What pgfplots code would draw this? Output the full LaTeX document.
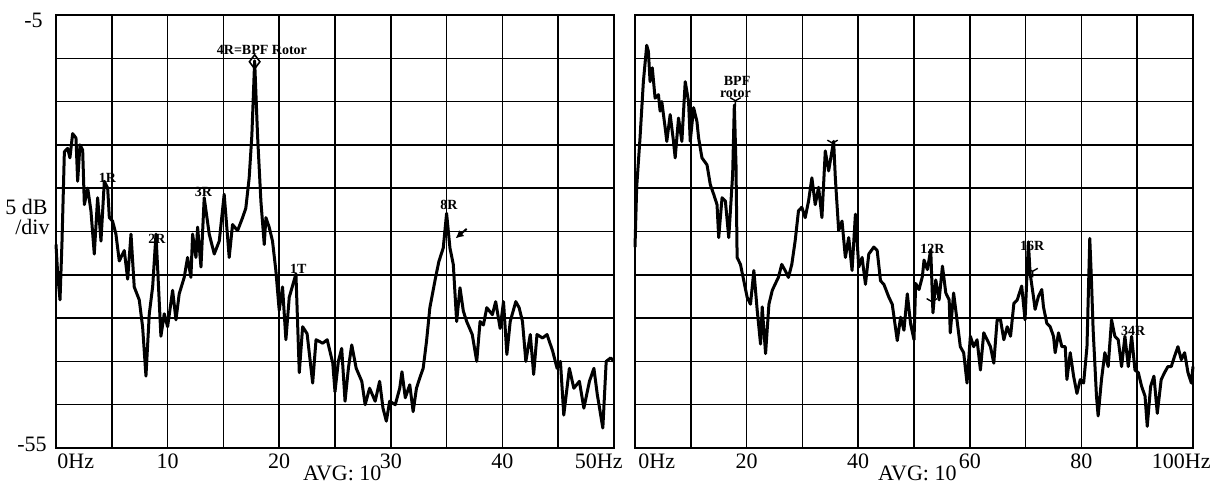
\documentclass[border=0pt]{standalone}
\usepackage{pgfplots}
\pgfplotsset{compat=1.18}
\usepackage{fontspec}
\setmainfont{Liberation Serif}
\usetikzlibrary{plotmarks,arrows.meta}

\pgfplotstableread{
hz db
0 -31.5
0.15 -34.9
0.36 -37.9
0.54 -31.1
0.75 -20.8
1.04 -20.4
1.25 -21.5
1.49 -18.7
1.79 -19.2
1.94 -24.2
2.15 -20.0
2.39 -20.6
2.54 -26.9
2.84 -25.0
3.13 -27.6
3.43 -32.6
3.73 -26.1
4.03 -31.1
4.33 -24.2
4.63 -25.0
4.78 -28.4
5.07 -28.8
5.37 -30.3
5.67 -33.4
6.12 -32.2
6.42 -35.5
6.72 -30.3
7.01 -36.4
7.46 -37.9
7.76 -41.0
8.06 -46.7
8.36 -39.5
8.66 -36.4
8.96 -30.3
9.40 -42.1
9.70 -39.5
10.0 -41.0
10.45 -36.8
10.75 -40.2
11.04 -37.2
11.49 -35.3
11.79 -33.0
12.09 -35.3
12.24 -30.3
12.54 -33.0
12.69 -29.5
12.99 -34.1
13.28 -26.1
13.73 -30.3
14.18 -32.6
14.63 -31.1
15.07 -25.7
15.52 -33.0
15.82 -29.2
16.27 -29.9
16.72 -28.4
17.01 -27.3
17.31 -23.8
17.55 -18.9
17.8 -10.3
18.06 -18.9
18.36 -26.5
18.66 -31.5
18.81 -28.4
19.10 -29.5
19.40 -31.1
19.70 -34.5
20.0 -39.1
20.3 -36.4
20.6 -42.5
20.9 -37.6
21.5 -34.9
21.8 -46.3
22.1 -41.0
22.5 -41.8
23.0 -47.5
23.3 -42.5
23.9 -42.9
24.3 -42.5
24.8 -45.2
25.0 -48.5
25.3 -45.0
25.6 -43.5
25.9 -49.6
26.2 -45.8
26.5 -43.1
26.9 -45.8
27.4 -47.3
27.7 -50.0
28.1 -48.1
28.6 -49.6
29.0 -47.3
29.3 -50.4
29.6 -51.9
29.9 -49.6
30.4 -50.0
30.8 -48.1
31.0 -46.2
31.3 -49.2
31.7 -47.7
32.0 -50.8
32.3 -48.1
32.6 -46.9
32.9 -45.8
33.2 -42.7
33.5 -38.8
34.0 -35.4
34.3 -33.5
34.7 -31.9
35.0 -27.9
35.3 -31.9
35.6 -33.8
35.9 -40.4
36.2 -36.5
36.5 -39.2
36.8 -40.4
37.3 -41.9
37.7 -45.0
38.0 -40.4
38.3 -40.8
38.6 -38.8
39.1 -39.6
39.4 -38.1
39.8 -41.2
40.1 -38.1
40.4 -44.2
40.7 -40.4
41.2 -38.1
41.5 -38.8
41.8 -40.4
42.1 -45.0
42.5 -41.9
42.8 -46.5
43.1 -41.9
43.6 -42.3
44.0 -41.9
44.5 -43.8
44.9 -45.8
45.2 -45.0
45.5 -51.2
46.0 -45.8
46.4 -48.1
46.9 -47.3
47.3 -50.4
47.8 -47.3
48.2 -45.8
48.5 -48.8
49.0 -52.7
49.3 -45.0
49.7 -44.6
50.0 -45.0
}\lefttable

\pgfplotstableread{
hz db
0 -31.8
0.3 -24.9
0.9 -19.2
1.5 -12.7
2.1 -8.5
2.4 -9.2
2.7 -12.7
3.1 -11.1
3.6 -14.6
4.2 -14.2
4.5 -16.1
4.8 -15.0
5.4 -18.0
5.7 -19.6
6.3 -16.5
6.9 -19.6
7.2 -21.5
7.8 -16.9
8.4 -19.6
9.0 -12.7
9.6 -15.0
9.9 -19.6
10.5 -15.7
11.1 -17.3
11.4 -19.2
12.0 -21.5
12.9 -22.3
13.5 -24.6
14.1 -25.7
14.7 -26.9
15.0 -30.7
15.6 -26.1
16.2 -26.5
16.8 -30.7
17.1 -27.6
17.5 -23.4
17.8 -15.4
18.1 -22.3
18.3 -33.0
18.9 -33.8
19.5 -35.7
20.1 -37.6
20.7 -38.4
21.3 -34.5
21.9 -39.1
22.5 -43.0
22.8 -38.7
23.4 -44.1
24.0 -38.4
24.6 -36.8
25.1 -36.1
25.7 -35.3
26.3 -33.8
26.9 -34.5
27.5 -35.3
28.1 -33.8
28.7 -31.1
29.3 -27.6
29.9 -27.2
30.5 -28.4
31.1 -26.5
31.7 -23.8
32.3 -26.9
32.9 -24.9
33.5 -28.4
34.1 -20.7
34.7 -23.0
35.3 -20.7
35.6 -19.6
35.9 -23.8
36.5 -29.9
37.1 -28.8
37.7 -33.0
38.3 -30.7
38.9 -34.5
39.5 -28.0
40.1 -34.1
40.7 -33.0
41.3 -36.1
41.9 -32.6
42.8 -31.8
43.4 -32.2
44.0 -35.7
44.6 -36.1
45.5 -37.6
46.1 -38.4
47.0 -42.6
47.6 -39.9
48.2 -41.4
48.8 -37.2
49.4 -40.7
50.0 -42.5
50.3 -36.0
50.9 -36.7
51.5 -35.2
51.8 -33.3
52.4 -34.4
53.0 -32.1
53.4 -39.4
53.9 -35.6
54.5 -37.9
55.1 -34.0
55.7 -37.1
56.3 -37.9
56.5 -41.7
57.1 -37.1
57.7 -40.2
58.3 -43.3
58.9 -44.0
59.5 -47.5
60.1 -42.1
60.7 -43.3
61.3 -42.5
61.9 -46.0
62.5 -41.7
63.1 -42.5
63.7 -43.3
64.3 -45.2
64.9 -40.2
65.5 -40.2
66.1 -42.5
66.7 -41.0
67.3 -42.1
67.9 -38.3
68.5 -37.9
69.3 -36.3
69.9 -40.2
70.5 -31.2
70.8 -34.8
71.4 -37.5
71.7 -39.0
72.3 -37.5
72.9 -36.7
73.2 -38.7
73.8 -40.6
74.4 -41.0
75.0 -42.1
75.3 -44.0
75.9 -41.7
76.5 -43.3
77.1 -43.3
77.4 -47.1
78.0 -44.0
78.6 -46.7
79.2 -48.7
79.8 -47.1
80.4 -47.5
81.0 -43.3
81.5 -30.8
81.8 -35.6
82.1 -41.3
82.7 -49.0
83.0 -51.3
83.6 -47.1
84.2 -44.0
84.8 -45.6
85.4 -40.2
86.0 -42.1
86.6 -42.5
87.2 -45.6
87.8 -42.1
88.4 -45.6
89.0 -42.1
89.6 -46.0
90.2 -46.3
90.8 -47.9
91.4 -49.0
91.8 -52.5
92.4 -47.9
93.0 -46.7
93.6 -51.0
94.3 -47.1
94.9 -46.3
95.5 -45.6
96.1 -45.6
96.7 -44.4
97.3 -43.3
97.9 -44.8
98.5 -44.0
99.1 -46.3
99.7 -47.5
100 -45.6
}\righttable

\pgfplotsset{
  specstyle/.style={
    scale only axis, width=279pt, height=216.5pt,
    anchor=south west,
    ymin=-55, ymax=-5,
    ytick={-55,-50,...,-5}, yticklabels={},
    grid=both,
    major grid style={black, line width=0.75pt},
    minor grid style={black, line width=0.75pt},
    axis line style={black, line width=1.4pt},
    tick style={draw=none},
    xticklabel style={font=\fontsize{11}{11}\selectfont, inner sep=0pt, yshift=-2.5pt},
    clip=false,
  },
}
\tikzset{
  annot/.style={font=\fontsize{7}{7}\selectfont\bfseries, inner sep=0pt},
  lab/.style={font=\fontsize{11}{11}\selectfont, inner sep=0pt},
}

\begin{document}
\begin{tikzpicture}
\useasboundingbox (0,0) rectangle (614pt,242.5pt);

\begin{axis}[specstyle, name=left, at={(28pt,18.5pt)},
  xmin=0, xmax=50,
  xtick={0,10,...,50}, minor xtick={5,15,...,45},
  xticklabels={,10,20,30,40,}]
\addplot[black, line width=1.5pt, line join=round] table[x=hz,y=db] {\lefttable};
\addplot[black, line width=0.8pt, only marks, mark=diamond, mark size=3.5pt] coordinates {(17.8,-10.4)};
\node[annot] at (axis cs:18.45,-9.0) {4R=BPF Rotor};
\node[annot] at (axis cs:4.6,-23.8) {1R};
\node[annot] at (axis cs:9.05,-30.9) {2R};
\node[annot] at (axis cs:13.2,-25.4) {3R};
\node[annot] at (axis cs:21.7,-34.3) {1T};
\node[annot] at (axis cs:35.2,-26.9) {8R};
\draw[black, line width=1pt, -{Latex[length=4pt,width=4pt]}] (axis cs:36.8,-29.7) -- (axis cs:35.8,-30.8);
\node[lab, anchor=base east] at ([yshift=-16.5pt]axis cs:29.2,-55) {AVG: 10};
\end{axis}

\node[lab, anchor=north west] at ([xshift=0.5pt, yshift=-2.5pt]left.south west) {0Hz};
\node[lab, anchor=north east] at ([xshift=4.5pt, yshift=-2.5pt]left.south east) {50Hz};
\node[lab, anchor=base east] at ([xshift=-6.5pt, yshift=-6.5pt]left.north west) {-5};
\node[lab, anchor=base east] at ([xshift=-4.5pt, yshift=-2pt]left.south west) {-55};
\node[lab, anchor=base east] at ([xshift=-4pt, yshift=8.5pt]left.west) {5 dB};
\node[lab, anchor=base east] at ([xshift=-3pt, yshift=-1.75pt]left.west) {/div};

\begin{axis}[specstyle, name=right, at={(317.5pt,18.5pt)},
  xmin=0, xmax=100,
  xtick={0,20,...,100}, minor xtick={10,30,...,90},
  xticklabels={,20,40,60,80,}]
\addplot[black, line width=1.5pt, line join=round] table[x=hz,y=db] {\righttable};
\addplot[black, line width=0.7pt, only marks, mark=Mercedes star flipped, mark size=3pt] coordinates {(18.0,-14.9) (35.4,-19.8) (53.2,-38.1) (71.25,-34.6)};
\node[annot] at (axis cs:18.3,-12.6) {BPF};
\node[annot] at (axis cs:18.0,-14.1) {rotor};
\node[annot] at (axis cs:53.3,-32.0) {12R};
\node[annot] at (axis cs:71.2,-31.7) {16R};
\node[annot] at (axis cs:89.3,-41.5) {34R};
\node[lab, anchor=base east] at ([yshift=-16.5pt]axis cs:57.7,-55) {AVG: 10};
\end{axis}

\node[lab, anchor=north west] at ([xshift=1.5pt, yshift=-2.5pt]right.south west) {0Hz};
\node[lab, anchor=north east] at ([xshift=9pt, yshift=-2.5pt]right.south east) {100Hz};
\end{tikzpicture}
\end{document}
